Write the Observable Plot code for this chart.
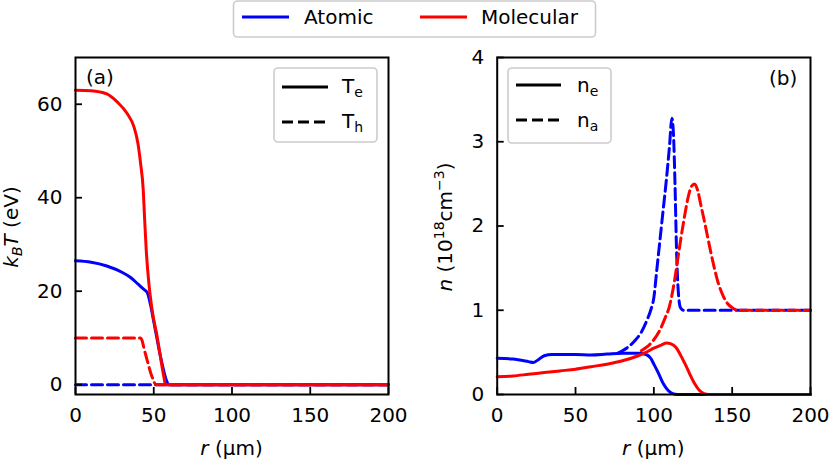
<!DOCTYPE html>
<html><head><meta charset="utf-8">
<script src="https://cdn.jsdelivr.net/npm/d3@7"></script>
<script src="https://cdn.jsdelivr.net/npm/@observablehq/plot@0.6"></script>
<style>
body{margin:0;background:#fff;font-family:"DejaVu Sans",sans-serif;}
#wrap{position:relative;width:830px;height:467px;background:#fff;overflow:hidden}
#wrap > div{position:absolute;top:0}
#pa text, #pb text{font-size:20px !important;font-family:"DejaVu Sans" !important;fill:black}
#overlay{position:absolute;left:0;top:0;pointer-events:none}
</style></head>
<body><div id="wrap"><div id="pa" style="left:0"></div><div id="pb" style="left:415px"></div></div>
<script>
// ---- Panel (a): temperatures (eV) ----
const rAtomicTe = [0,10,20,30,35,40,44,46,48,50,52,54,56,58,59.5,200];
const atomicTe  = [26.5,26.2,25.4,24,23,21.5,20.3,19.6,17,13.5,10,6.5,3.5,1,0,0];
const rAtomicTh = [0,200];
const atomicTh  = [0,0];
const rMolTe = [0,10,20,26.6,33,37.3,39.9,41.6,43.3,44.1,45.2,46.9,49,52.2,54.3,56.5,57.5,200];
const molTe  = [63,62.9,62.2,60.5,58,55.2,51.6,47.3,41.6,35.9,28.8,21.6,15.9,10.2,5.9,1.6,0,0];
const rMolTh = [0,41.5,42.5,43.6,45.8,49,51.5,200];
const molTh  = [10,10,9.5,8,5.2,1.6,0,0];

// ---- Panel (b): densities (1e18 cm^-3) ----
const rAtomicNe = [0,10,20,23,26,30,35,50,60,70,80,90,95,98,100,103,106,109,112,115,200];
const atomicNe  = [0.43,0.42,0.39,0.38,0.41,0.46,0.475,0.475,0.47,0.48,0.49,0.49,0.475,0.43,0.36,0.25,0.13,0.05,0.01,0,0];
const rAtomicNa = [77,80,84,88,92,96,98,100,102,104,106,108,110,111.5,112.5,113.5,114.5,115.5,117,119,200];
const atomicNa  = [0.49,0.52,0.57,0.64,0.74,0.9,1.0,1.15,1.5,1.85,2.2,2.55,2.95,3.28,3.1,2.5,1.7,1.25,1.03,1.0,1.0];
const rMolNe = [0,10,20,30,40,50,60,70,80,90,95,100,105,108,111,114,117,120,123,126,129,132,135,200];
const molNe  = [0.21,0.22,0.24,0.26,0.28,0.30,0.33,0.36,0.40,0.46,0.50,0.55,0.59,0.61,0.60,0.56,0.47,0.36,0.24,0.13,0.05,0.01,0,0];
const rMolNa = [92,96,100,104,107,110,113,116,119,122,124,126,128,130,132,134,136,138,141,144,147,150,154,200];
const molNa  = [0.52,0.57,0.65,0.77,0.9,1.05,1.33,1.7,2.05,2.35,2.47,2.5,2.42,2.25,2.08,1.9,1.72,1.55,1.33,1.18,1.08,1.03,1.0,1.0];

const xTicks = [0,50,100,150,200];
const yTicksA = [0,20,40,60];
const yTicksB = [0,1,2,3,4];
const speciesNames = ["Atomic","Molecular"];
const speciesColors = ["#0000ff","#ff0000"];

const toRows = (r, v) => r.map((x, i) => ({r: x, v: v[i]}));
const FONT = "DejaVu Sans";
const TICK = 7;

function lineMark(r, v, color, dashed) {
  return Plot.line(toRows(r, v), {x: "r", y: "v", stroke: color, strokeWidth: 3,
    strokeDasharray: dashed ? "11,5" : null, curve: "monotone-x"});
}

function panel(opts) {
  const W = 415, H = 467, mt = 57, mb = 73;
  const fw = W - opts.ml - opts.mr, fh = H - mt - mb;
  return Plot.plot({
    width: W, height: H,
    marginLeft: opts.ml, marginRight: opts.mr, marginTop: mt, marginBottom: mb,
    style: {fontFamily: FONT, fontSize: "20px", background: "transparent", color: "black"},
    x: {domain: [0, 200]},
    y: {domain: opts.ydomain},
    marks: [
      ...opts.lines,
      Plot.ruleX(xTicks, {stroke: "black", strokeWidth: 1.8, insetTop: fh - TICK}),
      Plot.ruleY(opts.yticks, {stroke: "black", strokeWidth: 1.8, insetRight: fw - TICK}),
      Plot.frame({stroke: "black", strokeWidth: 2}),
      Plot.axisX({ticks: xTicks, tickSize: 0, tickPadding: 13, label: null, fontSize: 20, tickFormat: d => String(d)}),
      Plot.axisY({ticks: opts.yticks, tickSize: 0, tickPadding: 13, label: null, fontSize: 20, tickFormat: d => String(d)})
    ]
  });
}

const pa = panel({
  ml: 75, mr: 27, ydomain: [-2.1, 70], yticks: yTicksA,
  lines: [
    lineMark(rAtomicTe, atomicTe, speciesColors[0], false),
    lineMark(rAtomicTh, atomicTh, speciesColors[0], true),
    lineMark(rMolTe, molTe, speciesColors[1], false),
    lineMark(rMolTh, molTh, speciesColors[1], true)
  ]
});
const pb = panel({
  ml: 81.7, mr: 20, ydomain: [0, 4], yticks: yTicksB,
  lines: [
    lineMark(rAtomicNe, atomicNe, speciesColors[0], false),
    lineMark(rAtomicNa, atomicNa, speciesColors[0], true),
    lineMark(rMolNe, molNe, speciesColors[1], false),
    lineMark(rMolNa, molNa, speciesColors[1], true)
  ]
});
document.getElementById("pa").appendChild(pa);
document.getElementById("pb").appendChild(pb);

// ---- overlay: axis titles, panel labels, legends ----
const svg = d3.select("#wrap").append("svg").attr("id", "overlay")
  .attr("width", 830).attr("height", 467)
  .style("font-family", FONT).style("font-size", "20px");

// x labels
for (const cx of [231.5, 653.3]) {
  const t = svg.append("text").attr("x", cx).attr("y", 455).attr("text-anchor", "middle");
  t.append("tspan").attr("font-style", "italic").text("r");
  t.append("tspan").text(" (μm)");
}
// y label (a)
{
  const t = svg.append("text").attr("transform", "translate(18,227) rotate(-90)").attr("text-anchor", "middle");
  t.append("tspan").attr("font-style", "italic").text("k");
  t.append("tspan").attr("font-style", "italic").attr("font-size", 14).attr("dy", 4).text("B");
  t.append("tspan").attr("font-style", "italic").attr("dy", -4).text("T");
  t.append("tspan").text(" (eV)");
}
// y label (b)
{
  const t = svg.append("text").attr("transform", "translate(452,227) rotate(-90)").attr("text-anchor", "middle");
  t.append("tspan").attr("font-style", "italic").text("n");
  t.append("tspan").text(" (10");
  t.append("tspan").attr("font-size", 14).attr("dy", -8).text("18");
  t.append("tspan").attr("dy", 8).text("cm");
  t.append("tspan").attr("font-size", 14).attr("dy", -8).text("−3");
  t.append("tspan").attr("dy", 8).text(")");
}
// panel labels
svg.append("text").attr("x", 86).attr("y", 84).text("(a)");
svg.append("text").attr("x", 769).attr("y", 85).text("(b)");

function legendBox(x, y, w, h) {
  svg.append("rect").attr("x", x).attr("y", y).attr("width", w).attr("height", h)
    .attr("rx", 4).attr("fill", "white").attr("fill-opacity", 0.8)
    .attr("stroke", "#cccccc").attr("stroke-width", 1.6);
}
function legendLine(x1, x2, y, color, dashed) {
  svg.append("line").attr("x1", x1).attr("x2", x2).attr("y1", y).attr("y2", y)
    .attr("stroke", color).attr("stroke-width", 3)
    .attr("stroke-dasharray", dashed ? "11,5" : null);
}
function subLabel(x, y, main, sub) {
  const t = svg.append("text").attr("x", x).attr("y", y);
  t.append("tspan").text(main);
  t.append("tspan").attr("font-size", 14).attr("dy", 4).text(sub);
}

// top legend
legendBox(233.5, 1, 362, 36);
legendLine(242, 289, 17, speciesColors[0], false);
svg.append("text").attr("x", 304).attr("y", 24).text(speciesNames[0]);
legendLine(420, 467, 17, speciesColors[1], false);
svg.append("text").attr("x", 481).attr("y", 24).text(speciesNames[1]);

// panel (a) legend
legendBox(274, 68, 103, 74);
legendLine(282, 328, 87, "black", false);
subLabel(342, 93, "T", "e");
legendLine(282, 328, 122, "black", true);
subLabel(342, 128, "T", "h");

// panel (b) legend
legendBox(508, 68, 103, 75);
legendLine(516, 561, 85, "black", false);
subLabel(577, 92, "n", "e");
legendLine(516, 561, 120, "black", true);
subLabel(577, 127, "n", "a");
</script>
</body></html>
